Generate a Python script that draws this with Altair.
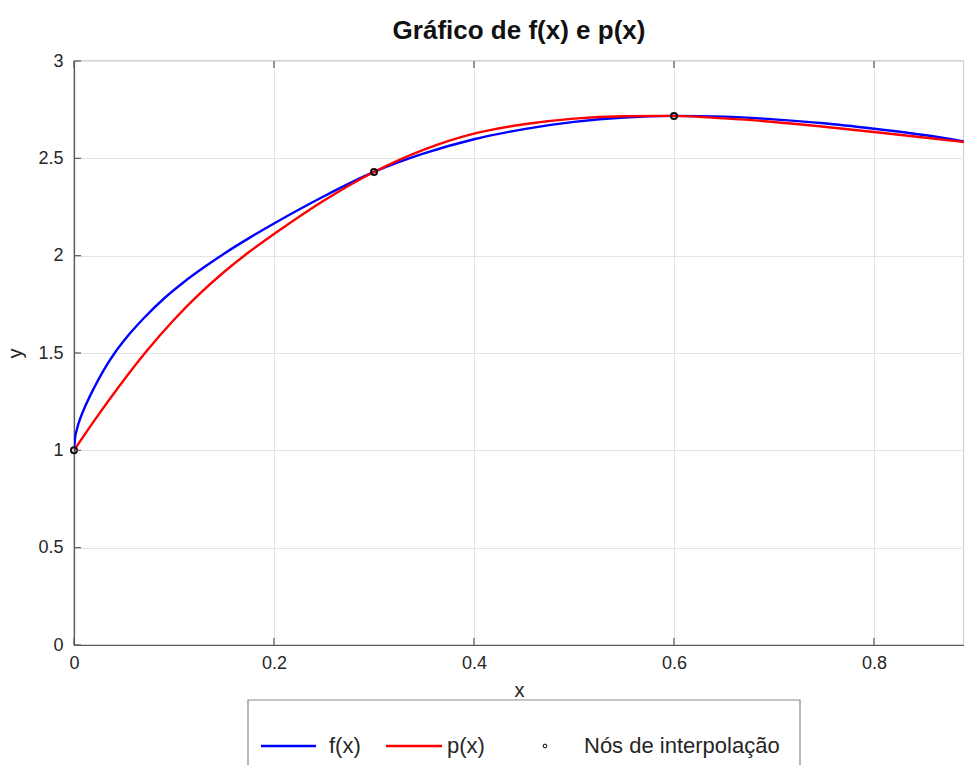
import altair as alt
import pandas as pd

# f(x)
f_x = [0.0, 0.001, 0.003, 0.006, 0.012, 0.02, 0.03, 0.04, 0.055, 0.07, 0.09, 0.11, 0.13, 0.15,
       0.175, 0.2, 0.25, 0.3, 0.35, 0.4, 0.45, 0.5, 0.55, 0.6, 0.65, 0.7, 0.75, 0.8, 0.85, 0.89]
f_y = [1.0, 1.06, 1.11, 1.16, 1.235, 1.32, 1.415, 1.495, 1.595, 1.68, 1.78, 1.865, 1.94, 2.01,
       2.09, 2.165, 2.305, 2.43, 2.525, 2.598, 2.65, 2.687, 2.71, 2.718, 2.714, 2.70, 2.68, 2.652, 2.62, 2.587]

# p(x)
p_x = [0.0, 0.021, 0.045, 0.071, 0.1, 0.125, 0.15, 0.175, 0.2, 0.25, 0.3, 0.35, 0.4, 0.45,
       0.5, 0.55, 0.6, 0.65, 0.7, 0.75, 0.8, 0.85, 0.89]
p_y = [1.0, 1.1575, 1.328, 1.5, 1.671, 1.801, 1.916, 2.0185, 2.111, 2.2835, 2.43, 2.545, 2.627, 2.675,
       2.704, 2.716, 2.718, 2.705, 2.687, 2.662, 2.635, 2.607, 2.584]

# interpolation nodes
node_x = [0.0, 0.3, 0.6]
node_y = [1.0, 2.43, 2.718]

x_ticks = [0, 0.2, 0.4, 0.6, 0.8]
y_ticks = [0, 0.5, 1, 1.5, 2, 2.5, 3]

legend_labels = ["f(x)", "p(x)", "Nós de interpolação"]
title_text = "Gráfico de f(x) e p(x)"

W, H = 890, 584
FONT = "Liberation Sans"
AX = "#5a5a5a"
GRID = "#e3e3e3"
TXT = "#262626"

xs = alt.Scale(domain=[0, 0.89], nice=False, zero=False)
ys = alt.Scale(domain=[0, 3], nice=False, zero=False)

x_axis = alt.Axis(values=x_ticks, format="~f", grid=True, gridColor=GRID, gridWidth=1,
                  ticks=False, domainColor=AX, domainWidth=1.2, labelFont=FONT,
                  labelFontSize=18, labelColor=TXT, labelPadding=9, labelFlush=False,
                  title="x", titleFont=FONT, titleFontSize=20, titleFontWeight="normal",
                  titleColor=TXT, titlePadding=8)
y_axis = alt.Axis(values=y_ticks, format="~f", grid=True, gridColor=GRID, gridWidth=1,
                  ticks=False, domainColor=AX, domainWidth=1.2, labelFont=FONT,
                  labelFontSize=18, labelColor=TXT, labelPadding=11, labelFlush=False,
                  title="y", titleFont=FONT, titleFontSize=20, titleFontWeight="normal",
                  titleColor=TXT, titlePadding=12)

f_df = pd.DataFrame({"x": f_x, "y": f_y})
p_df = pd.DataFrame({"x": p_x, "y": p_y})
n_df = pd.DataFrame({"x": node_x, "y": node_y})
xt_df = pd.DataFrame({"x": x_ticks})
yt_df = pd.DataFrame({"y": y_ticks})

f_line = alt.Chart(f_df).mark_line(color="#0000ff", strokeWidth=2.4, interpolate="monotone", clip=True).encode(
    x=alt.X("x:Q", scale=xs, axis=x_axis),
    y=alt.Y("y:Q", scale=ys, axis=y_axis),
)
p_line = alt.Chart(p_df).mark_line(color="#ff0000", strokeWidth=2.4, interpolate="monotone", clip=True).encode(
    x=alt.X("x:Q", scale=xs, axis=x_axis),
    y=alt.Y("y:Q", scale=ys, axis=y_axis),
)
nodes = alt.Chart(n_df).mark_point(shape="circle", filled=False, stroke="#111",
                                   strokeWidth=2, size=36, opacity=1).encode(
    x=alt.X("x:Q", scale=xs, axis=x_axis),
    y=alt.Y("y:Q", scale=ys, axis=y_axis),
)

# inward tick marks (bottom, top, left)
tick_b = alt.Chart(xt_df).mark_rule(color=AX, strokeWidth=1.2).encode(
    x=alt.X("x:Q", scale=xs, axis=x_axis), y=alt.value(H), y2=alt.value(H - 7))
tick_t = alt.Chart(xt_df).mark_rule(color=AX, strokeWidth=1.2).encode(
    x=alt.X("x:Q", scale=xs, axis=x_axis), y=alt.value(0), y2=alt.value(7))
tick_l = alt.Chart(yt_df).mark_rule(color=AX, strokeWidth=1.2).encode(
    y=alt.Y("y:Q", scale=ys, axis=y_axis), x=alt.value(0), x2=alt.value(7))

# legend (drawn by hand, below the plot)
one = pd.DataFrame({"a": [0]})
LY = 685
leg_box = alt.Chart(one).mark_rect(fill="white", stroke="#8a8a8a", strokeWidth=1.2).encode(
    x=alt.value(174), x2=alt.value(726), y=alt.value(639), y2=alt.value(760))
leg_blue = alt.Chart(one).mark_rule(color="#0000ff", strokeWidth=2.4).encode(
    x=alt.value(187), x2=alt.value(242), y=alt.value(LY))
leg_red = alt.Chart(one).mark_rule(color="#ff0000", strokeWidth=2.4).encode(
    x=alt.value(312), x2=alt.value(368), y=alt.value(LY))
leg_pt = alt.Chart(one).mark_point(shape="circle", filled=False, stroke="black",
                                    strokeWidth=1, size=14, opacity=1).encode(
    x=alt.value(471), y=alt.value(LY))


def leg_text(label, px):
    return alt.Chart(one).mark_text(align="left", baseline="middle", font=FONT,
                                    fontSize=22, color=TXT, text=label).encode(
        x=alt.value(px), y=alt.value(LY))


chart = alt.layer(
    f_line, p_line, nodes, tick_b, tick_t, tick_l,
    leg_box, leg_blue, leg_red, leg_pt,
    leg_text(legend_labels[0], 255),
    leg_text(legend_labels[1], 373),
    leg_text(legend_labels[2], 510),
).properties(
    width=W, height=H,
    title=alt.TitleParams(title_text, font=FONT, fontSize=26, fontWeight="bold",
                          color="#111", anchor="middle", offset=8),
    autosize=alt.AutoSizeParams(type="none"),
    padding={"left": 74, "top": 61, "right": 0, "bottom": 120},
).configure_view(stroke=AX, strokeWidth=1.2)

chart.save("out.html", embed_options={"renderer": "svg", "actions": False})
